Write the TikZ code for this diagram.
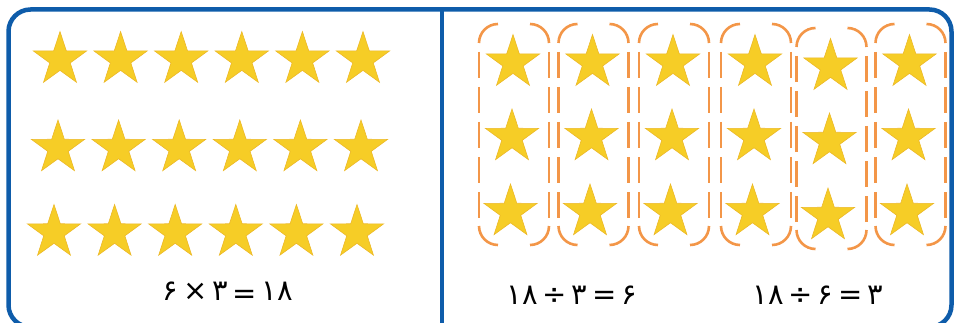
\documentclass[tikz,border=0pt]{standalone}
\usepackage{xcolor}
\usepackage{fontspec}
\newfontfamily\persianfont{DejaVu Sans}
\usetikzlibrary{shapes.geometric,positioning}
\definecolor{frameblue}{RGB}{14,92,170}
\definecolor{staryellow}{RGB}{246,205,38}
\definecolor{staredge}{RGB}{236,184,40}
\definecolor{groupline}{RGB}{243,150,72}

\begin{document}
\begin{tikzpicture}[x=1pt, y=1pt,
    frame/.style={draw=frameblue, line width=4.5pt},
    staritem/.style={star, star points=5, star point ratio=2.6, minimum size=56pt, inner sep=0pt, fill=staryellow, draw=staredge, line width=0.6pt},
    groupside/.style={draw=groupline, line width=2.6pt, dash pattern=on 26pt off 9pt, dash phase=26pt},
    grouparc/.style={draw=groupline, line width=2.6pt},
    equation/.style={font=\persianfont\fontsize{29}{34}\selectfont, inner sep=0pt},
  ]
  \useasboundingbox (0,0) rectangle (954,322);
  \draw [frame, rounded corners=22pt] (8.5,-5) rectangle (951.5,312.5);
  \draw [frame] (442,312.5) -- (442,-5);
  \foreach \r/\y/\s in {1/262.4/60, 2/174/58, 3/89.5/54}
    \foreach \c in {1,...,6}
      \node [staritem] (left-\r-\c) at ({\s+(\c-1)*60.6},\y) {};
  \foreach \c/\x/\t in {1/514/298, 2/593.5/298, 3/674/298, 4/756/298, 5/831.5/294, 6/910.5/298} {
    \coordinate (group-\c-top) at (\x,\t);
    \coordinate (group-\c-bottom) at (\x,\t-221);
    \draw [groupside] ([xshift=-35pt, yshift=-19pt]group-\c-top) -- ([xshift=-35pt, yshift=19pt]group-\c-bottom);
    \draw [groupside] ([xshift=35pt, yshift=-19pt]group-\c-top) -- ([xshift=35pt, yshift=19pt]group-\c-bottom);
    \draw [grouparc] ([xshift=-35pt, yshift=-19pt]group-\c-top) arc (180:90:19pt);
    \draw [grouparc] ([xshift=16pt]group-\c-top) arc (90:0:19pt);
    \draw [grouparc] ([xshift=-35pt, yshift=19pt]group-\c-bottom) arc (180:270:19pt);
    \draw [grouparc] ([xshift=16pt]group-\c-bottom) arc (270:360:19pt);
    \foreach \r/\d/\h in {1/1/38.6, 2/2/113, 3/3.5/188}
      \node [staritem] (right-\c-\r) at (\x-\d,\t-\h) {};
  }
  \node [equation] (product) at (228,29) {۶\,×\,۳\,\raisebox{-3pt}{=}\,۱۸};
  \node [equation] (quotient-a) at (572,27) {۱۸\,÷\,۳\,=\,۶};
  \node [equation] (quotient-b) at (818,27) {۱۸\,÷\,۶\,=\,۳};
\end{tikzpicture}
\end{document}
